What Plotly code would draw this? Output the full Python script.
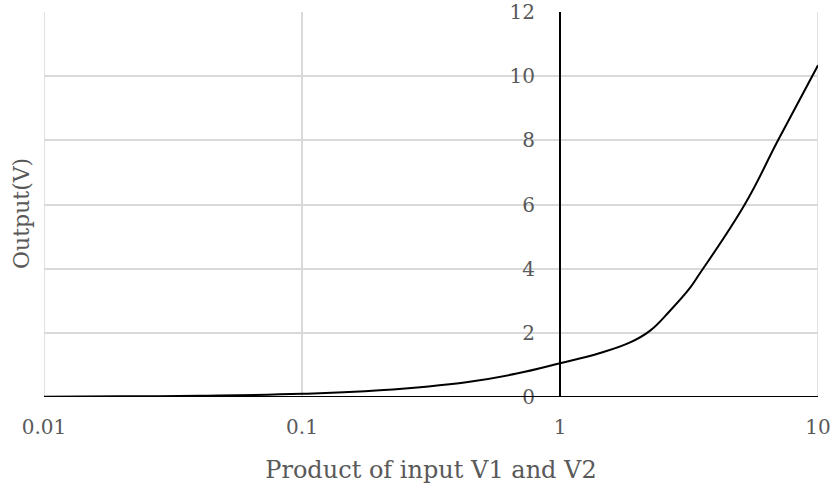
import plotly.graph_objects as go

x_vals = [0.01, 0.02, 0.04, 0.1, 0.2, 0.44, 0.68, 1.0, 1.43, 1.87, 2.23, 2.67, 3.19, 3.43, 5.2, 7.0, 10.0]
y_vals = [0.01, 0.02, 0.04, 0.1, 0.21, 0.47, 0.73, 1.05, 1.37, 1.70, 2.06, 2.69, 3.4, 3.77, 6.0, 8.0, 10.34]
x_ticks = [0.01, 0.1, 1, 10]
x_tick_text = ["0.01", "0.1", "1", "10"]
y_ticks = [0, 2, 4, 6, 8, 10, 12]

FONT = "DejaVu Serif"
GREY = "#595959"
GRID = "#d9d9d9"

fig = go.Figure()
fig.add_trace(go.Scatter(
    x=x_vals, y=y_vals, mode="lines",
    line=dict(color="black", width=2, shape="spline", smoothing=1.2),
    showlegend=False, hoverinfo="skip",
))

fig.update_layout(
    width=834, height=484,
    margin=dict(l=44, r=16, t=12, b=87, autoexpand=False),
    paper_bgcolor="white", plot_bgcolor="white",
    font=dict(family=FONT, color=GREY, size=20),
    xaxis=dict(
        type="log", range=[-2, 1], domain=[0, 1], automargin=False,
        tickvals=x_ticks, ticktext=x_tick_text,
        showgrid=True, gridcolor=GRID, gridwidth=1.5,
        showline=False, zeroline=False,
        ticks="outside", ticklen=12, tickcolor="rgba(0,0,0,0)",
        tickfont=dict(family=FONT, size=20, color=GREY),
        title=dict(text="Product of input V1 and V2", standoff=25,
                   font=dict(family=FONT, size=24, color=GREY)),
    ),
    yaxis=dict(
        range=[0, 12], tickvals=y_ticks, automargin=False,
        anchor="free", position=2/3,
        showgrid=True, gridcolor=GRID, gridwidth=1.5,
        zeroline=False, showline=True, linecolor="black", linewidth=2,
        ticks="", ticklabelstandoff=20,
        tickfont=dict(family=FONT, size=20, color=GREY),
    ),
    shapes=[
        dict(type="line", xref="x", yref="paper", x0=0.01, x1=0.01, y0=0, y1=1,
             line=dict(color=GRID, width=1.5), layer="below"),
        dict(type="line", xref="x", yref="paper", x0=10, x1=10, y0=0, y1=1,
             line=dict(color=GRID, width=1.5), layer="below"),
        dict(type="line", xref="paper", yref="y", x0=0, x1=1, y0=0, y1=0,
             line=dict(color="black", width=2), layer="above"),
    ],
    annotations=[dict(text="Output(V)", xref="paper", yref="paper",
                      x=-22/774, y=(397-214)/385, textangle=-90,
                      showarrow=False, xanchor="center", yanchor="middle",
                      font=dict(family=FONT, size=22, color=GREY))],
)

fig.write_html("out.html")
